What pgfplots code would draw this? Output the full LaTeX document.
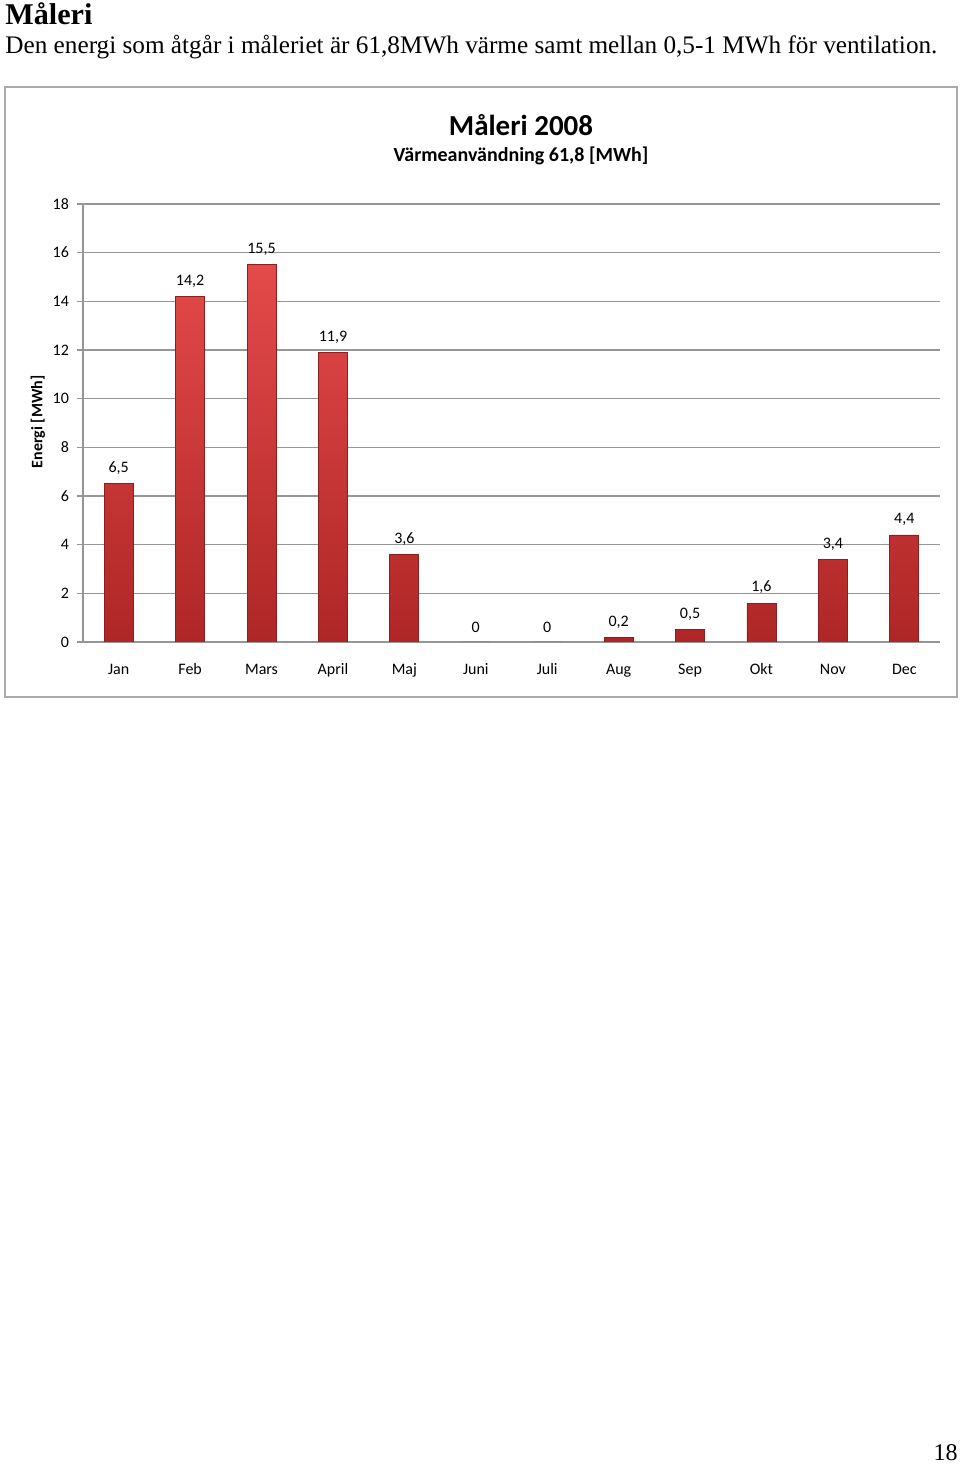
\documentclass[border=0pt]{standalone}
\usepackage{pgfplots}
\pgfplotsset{compat=1.18}
\usepackage{fontspec}
\setmainfont{Carlito}
\newfontfamily\serif{Liberation Serif}
\definecolor{bartop}{RGB}{228,74,74}
\definecolor{barbot}{RGB}{175,38,38}
\definecolor{baredge}{RGB}{140,30,30}
\definecolor{gridc}{RGB}{150,150,150}
\definecolor{boxc}{RGB}{170,170,170}
\begin{document}
\begin{tikzpicture}
\useasboundingbox (0,0) rectangle (480pt,733pt);
\fill[white] (0,0) rectangle (480pt,733pt);
% page header
\node[anchor=base west, inner sep=0pt] at (2.5pt,720.5pt) {\resizebox{43.5pt}{!}{\serif\bfseries Måleri}};
\node[anchor=base west, inner sep=0pt] at (2.5pt,706pt) {\resizebox{466pt}{!}{\serif Den energi som åtgår i måleriet är 61,8MWh värme samt mellan 0,5-1 MWh för ventilation.}};
\node[anchor=base east, inner sep=0pt] at (479pt,2.5pt) {\serif\fontsize{12}{14}\selectfont 18};
% chart box
\draw[boxc, line width=1pt] (2.5pt,384.5pt) rectangle (478.5pt,689.5pt);
\node[anchor=base, inner sep=0pt] at (260.5pt,665pt) {\fontsize{14.5}{16}\selectfont\bfseries Måleri 2008};
\node[anchor=base, inner sep=0pt] at (260.5pt,652pt) {\fontsize{10}{11}\selectfont\bfseries Värmeanvändning 61,8 [MWh]};
\node[rotate=90, inner sep=0pt, font=\fontsize{8}{9}\selectfont\bfseries] at (19pt,522pt) {Energi [MWh]};
\begin{axis}[
  at={(41.5pt,412pt)}, anchor=south west,
  scale only axis, width=428.5pt, height=219pt,
  ymin=0, ymax=18, ytick={0,2,...,18},
  xmin=-0.5, xmax=11.5,
  axis x line*=bottom, axis y line*=left,
  axis line style={gridc, line width=0.6pt},
  ymajorgrids, grid style={gridc, line width=0.6pt},
  tick align=outside,
  major tick length=3pt,
  tick style={gridc, line width=0.6pt},
  xtick={0,...,11},
  xticklabels={Jan,Feb,Mars,April,Maj,Juni,Juli,Aug,Sep,Okt,Nov,Dec},
  x tick style={draw=none},
  minor xtick={-0.5,0.5,...,11.5},
  minor tick length=3pt,
  minor x tick style={gridc, line width=0.6pt},
  ticklabel style={font=\fontsize{8}{9}\selectfont},
  xticklabel style={yshift=-2pt, text height=1.6ex, text depth=0.4ex},
  yticklabel style={xshift=-0.5pt},
  /pgf/number format/assume math mode=true,
  ybar, bar width=14.5pt,
  nodes near coords={\pgfplotspointmeta},
  point meta=explicit symbolic,
  every node near coord/.style={font=\fontsize{8}{9}\selectfont, yshift=1pt},
]
\addplot[draw=baredge, line width=0.4pt, top color=bartop, bottom color=barbot] coordinates {
 (0,6.5) [6,5]
 (1,14.2) [14,2]
 (2,15.5) [15,5]
 (3,11.9) [11,9]
 (4,3.6) [3,6]
 (5,0) [0]
 (6,0) [0]
 (7,0.2) [0,2]
 (8,0.5) [0,5]
 (9,1.6) [1,6]
 (10,3.4) [3,4]
 (11,4.4) [4,4]
};
\end{axis}
\end{tikzpicture}
\end{document}
